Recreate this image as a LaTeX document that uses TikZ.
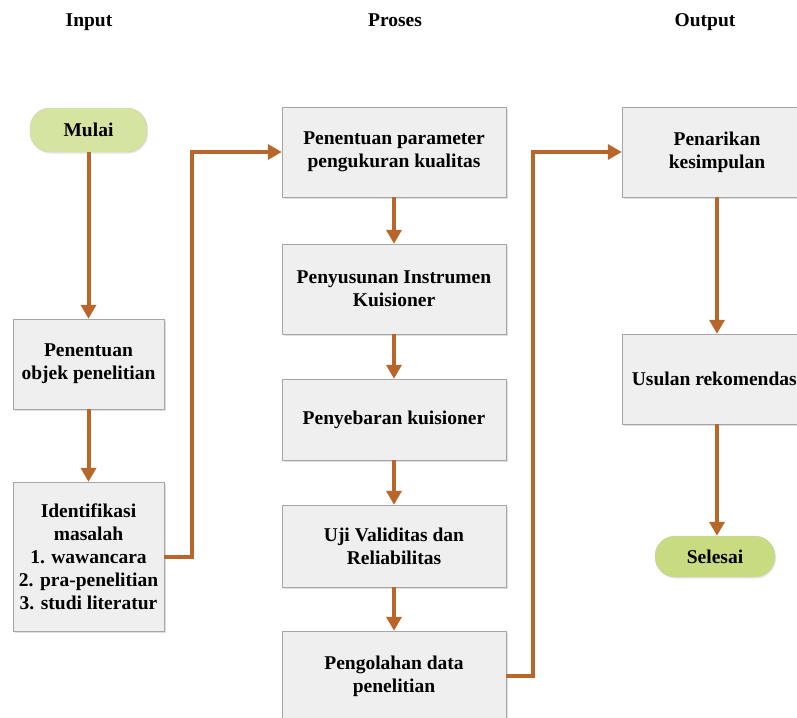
\documentclass[tikz,border=0pt]{standalone}
\usepackage{fontspec}
\setmainfont{Liberation Serif}
\usetikzlibrary{arrows.meta,shadows}

\definecolor{flowbrown}{RGB}{185,102,42}
\definecolor{boxgray}{RGB}{239,239,239}
\definecolor{boxline}{RGB}{166,166,166}
\definecolor{pillgreen}{RGB}{214,228,162}
\definecolor{endgreen}{RGB}{199,219,128}

\tikzset{
    heading/.style={anchor=base, font=\bfseries\fontsize{19.5}{23}\selectfont},
    process/.style={rectangle, draw=boxline, fill=boxgray, align=center, inner sep=2pt,
        font=\bfseries\fontsize{19.5}{23}\selectfont,
        drop shadow={opacity=0.25, shadow xshift=1.5pt, shadow yshift=-1.5pt}},
    terminal/.style={rectangle, rounded corners=20pt, fill=pillgreen, draw=pillgreen!80!black!60,
        font=\bfseries\fontsize{19.5}{23}\selectfont,
        drop shadow={opacity=0.2, shadow xshift=1pt, shadow yshift=-1.5pt}},
    flow/.style={draw=flowbrown, line width=4pt, -{Triangle[length=14pt, width=15pt]}}
}

\begin{document}
\begin{tikzpicture}[x=1pt, y=-1pt]
\useasboundingbox (0,0) rectangle (797,717);
\clip (0,0) rectangle (797,717);

% ===== Column: Input =====
\begin{scope}
    \node[heading] (hin) at (89,27) {Input};
    \node[terminal, minimum width=117pt, minimum height=44pt] (mulai) at (88.5,130) {Mulai};
    \node[process, minimum width=151pt, minimum height=90pt] (objek) at (88.5,364)
        {Penentuan\\objek penelitian};
    \node[process, minimum width=151pt, minimum height=149pt] (identifikasi) at (88.5,556.5)
        {Identifikasi\\masalah\\1. wawancara\\2. pra-penelitian\\3. studi literatur};
    \draw[flow] (mulai) -- (objek);
    \draw[flow] (objek) -- (identifikasi);
\end{scope}

% ===== Column: Proses =====
\begin{scope}
    \node[heading] (hproses) at (395,27) {Proses};
    \node[process, minimum width=224pt, minimum height=90pt] (parameter) at (394,152)
        {Penentuan parameter\\pengukuran kualitas};
    \node[process, minimum width=224pt, minimum height=90pt] (penyusunan) at (394,289)
        {Penyusunan Instrumen\\Kuisioner};
    \node[process, minimum width=224pt, minimum height=81pt] (penyebaran) at (394,419.5)
        {Penyebaran kuisioner};
    \node[process, minimum width=224pt, minimum height=82pt] (uji) at (394,546)
        {Uji Validitas dan\\Reliabilitas};
    \node[process, minimum width=224pt, minimum height=90pt] (pengolahan) at (394,676)
        {Pengolahan data\\penelitian};
    \draw[flow] (parameter) -- (penyusunan);
    \draw[flow] (penyusunan) -- (penyebaran);
    \draw[flow] (penyebaran) -- (uji);
    \draw[flow] (uji) -- (pengolahan);
\end{scope}

% ===== Column: Output =====
\begin{scope}
    \node[heading] (hout) at (705,27) {Output};
    \node[process, minimum width=190pt, minimum height=90pt] (penarikan) at (717,152)
        {Penarikan\\kesimpulan};
    \node[process, minimum width=190pt, minimum height=90pt] (usulan) at (717,379)
        {Usulan rekomendasi};
    \node[terminal, fill=endgreen, minimum width=120pt, minimum height=41pt]
        (selesai) at (715,556.5) {Selesai};
    \draw[flow] (penarikan) -- (usulan);
    \draw[flow] (usulan.south) -- (usulan.south |- selesai.north);
\end{scope}

% ===== links between columns =====
\draw[flow] (identifikasi.east) -- ++(28,0) |- (parameter.west);
\draw[flow] (pengolahan.east) -- ++(27,0) |- (penarikan.west);

\end{tikzpicture}
\end{document}
